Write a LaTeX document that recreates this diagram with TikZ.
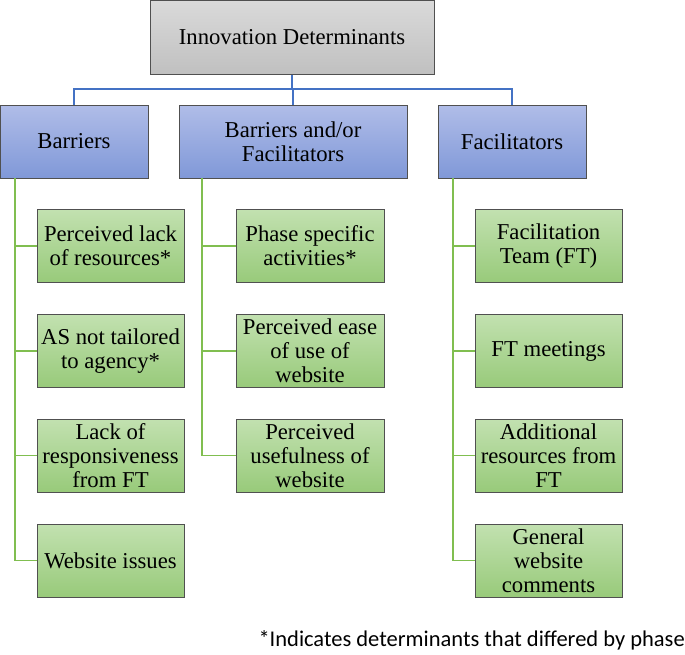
\documentclass[tikz,border=0pt]{standalone}
\usepackage{fontspec}
\setmainfont{Liberation Serif}
\newfontfamily\notefont{Carlito}
\definecolor{bluetop}{RGB}{176,189,232}
\definecolor{bluebot}{RGB}{128,152,216}
\definecolor{greentop}{RGB}{194,225,176}
\definecolor{greenbot}{RGB}{152,202,122}
\definecolor{graytop}{RGB}{218,218,218}
\definecolor{graybot}{RGB}{192,192,192}
\definecolor{boxline}{RGB}{80,80,80}
\definecolor{blueline}{RGB}{68,114,196}
\definecolor{greenline}{RGB}{128,190,80}
\begin{document}
\begin{tikzpicture}[x=1pt,y=-1pt,
  base/.style={draw=boxline,line width=1pt,align=center,inner sep=2pt,
    font=\fontsize{22.7}{24}\selectfont},
  graybox/.style={base,top color=graytop,bottom color=graybot,minimum width=284pt,minimum height=74pt},
  bluebox/.style={base,top color=bluetop,bottom color=bluebot,minimum height=73pt},
  greenbox/.style={base,top color=greentop,bottom color=greenbot,minimum width=147pt,minimum height=73pt},
  bconn/.style={draw=blueline,line width=1.5pt},
  gconn/.style={draw=greenline,line width=1.5pt}]
\useasboundingbox (0,0) rectangle (685,654);
\node[graybox] (top) at (292,37) {Innovation Determinants};
\node[bluebox,minimum width=148pt] (b1) at (74,141.5) {Barriers};
\node[bluebox,minimum width=228pt] (b2) at (293,141.5) {Barriers and/or\\Facilitators};
\node[bluebox,minimum width=148pt] (b3) at (512,141.5) {Facilitators};
% column 1
\node[greenbox] (g11) at (110.5,246) {Perceived lack\\of resources*};
\node[greenbox] (g12) at (110.5,351) {AS not tailored\\to agency*};
\node[greenbox] (g13) at (110.5,455.5) {Lack of\\responsiveness\\from FT};
\node[greenbox] (g14) at (110.5,560.5) {Website issues};
% column 2
\node[greenbox,minimum width=148pt] (g21) at (310,246) {Phase specific\\activities*};
\node[greenbox,minimum width=148pt] (g22) at (310,351) {Perceived ease\\of use of\\website};
\node[greenbox,minimum width=148pt] (g23) at (310,455.5) {Perceived\\usefulness of\\website};
% column 3
\node[greenbox] (g31) at (548.5,246) {Facilitation\\Team (FT)};
\node[greenbox] (g32) at (548.5,351) {FT meetings};
\node[greenbox] (g33) at (548.5,455.5) {Additional\\resources from\\FT};
\node[greenbox] (g34) at (548.5,560.5) {General\\website\\comments};
% blue connectors
\coordinate (bus) at (0,89);
\draw[bconn] (top.south) -- (top.south |- bus);
\draw[bconn] (b1.north) -- (b1.north |- bus) -- (b3.north |- bus) -- (b3.north);
\draw[bconn] (b2.north) -- (b2.north |- bus);
% green trunks
\coordinate (t1) at (15,178);
\coordinate (t2) at (202,178);
\coordinate (t3) at (453,178);
\draw[gconn] (t1) |- (g14.west);
\draw[gconn] (t1 |- g11.west) -- (g11.west);
\draw[gconn] (t1 |- g12.west) -- (g12.west);
\draw[gconn] (t1 |- g13.west) -- (g13.west);
\draw[gconn] (t2) |- (g23.west);
\draw[gconn] (t2 |- g21.west) -- (g21.west);
\draw[gconn] (t2 |- g22.west) -- (g22.west);
\draw[gconn] (t3) |- (g34.west);
\draw[gconn] (t3 |- g31.west) -- (g31.west);
\draw[gconn] (t3 |- g32.west) -- (g32.west);
\draw[gconn] (t3 |- g33.west) -- (g33.west);
\node[anchor=east,inner sep=0pt,font=\notefont\fontsize{22.5}{24}\selectfont] (note) at (685,640) {*Indicates determinants that differed by phase};
\end{tikzpicture}
\end{document}
